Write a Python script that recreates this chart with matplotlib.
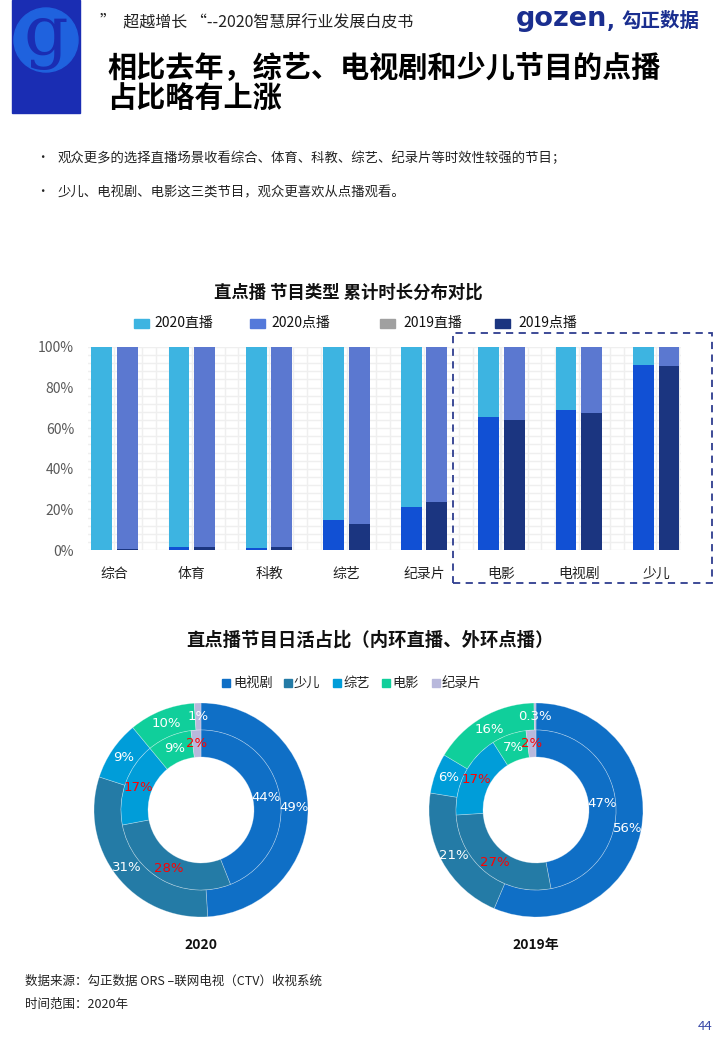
import matplotlib
matplotlib.use("Agg")
import matplotlib.pyplot as plt
from matplotlib.patches import Rectangle, Ellipse
from matplotlib.ticker import MultipleLocator, FuncFormatter
import numpy as np

plt.rcParams['font.family'] = ['Noto Sans CJK SC', 'DejaVu Sans']

W, H = 720, 1040
def fx(px): return px / W
def fy(py): return 1 - py / H

# ---------------- data ----------------
categories = ['综合', '体育', '科教', '综艺', '纪录片', '电影', '电视剧', '少儿']
vod_2020 = [0.2, 1.6, 1.2, 14.9, 21.1, 65.5, 68.9, 91.3]   # 点播 share (%) 2020
vod_2019 = [0.5, 1.5, 1.6, 12.8, 23.7, 63.8, 67.3, 90.8]   # 点播 share (%) 2019
bar_legend = ['2020直播', '2020点播', '2019直播', '2019点播']

donut_cats = ['电视剧', '少儿', '综艺', '电影', '纪录片']
outer_2020 = [49, 31, 9, 10, 1]
inner_2020 = [44, 28, 17, 9, 2]
outer_2019 = [56, 21, 6, 16, 0.3]
inner_2019 = [47, 27, 17, 7, 2]

bullets = ['观众更多的选择直播场景收看综合、体育、科教、综艺、纪录片等时效性较强的节目；',
           '少儿、电视剧、电影这三类节目，观众更喜欢从点播观看。']

# ---------------- colours ----------------
c20_top, c20_bot = '#3DB4E1', '#1150D4'
c19_top, c19_bot = '#5B78D0', '#1B3580'
legend_cols = ['#3DB4E1', '#5479DA', '#A0A0A0', '#1B3580']
donut_cols = ['#0F6FC6', '#247BA6', '#009DD9', '#10CF9B', '#B8B8DC']
inner_label_cols = ['white', 'red', 'red', 'white', 'red']

fig = plt.figure(figsize=(7.2, 10.4), dpi=100)

# ---------------- header ----------------
fig.patches.append(Rectangle((fx(12), fy(113)), fx(80) - fx(12), fy(0) - fy(113),
                             transform=fig.transFigure, color='#1A2DB3', zorder=0))
fig.patches.append(Ellipse((fx(46), fy(40)), 64 / W, 64 / H, transform=fig.transFigure,
                           color='#1F62DE', zorder=1))
fig.text(fx(46), fy(37), 'g', fontsize=50, family='DejaVu Serif', color='#1A2DB3',
         ha='center', va='center', zorder=2)
fig.text(fx(100), fy(22), '”  超越增长 “--2020智慧屏行业发展白皮书', fontsize=11.5,
         color='#222222', ha='left', va='center')
fig.text(fx(516), fy(19), 'gozen', fontsize=19.5, fontweight='bold', color='#1A2E8F',
         family='DejaVu Sans', ha='left', va='center')
fig.text(fx(607), fy(22), ',', fontsize=15, fontweight='bold', color='#1A2E8F',
         family='DejaVu Sans', ha='left', va='center')
fig.text(fx(621), fy(21), '勾正数据', fontsize=14, fontweight='bold', color='#1A2E8F',
         ha='left', va='center')
fig.text(fx(107), fy(68), '相比去年，综艺、电视剧和少儿节目的点播', fontsize=21,
         fontweight='bold', color='black', ha='left', va='center')
fig.text(fx(107), fy(99), '占比略有上涨', fontsize=21,
         fontweight='bold', color='black', ha='left', va='center')
for i, b in enumerate(bullets):
    y = [158, 192][i]
    fig.text(fx(42), fy(y), '•', fontsize=9, color='#222222', ha='center', va='center')
    fig.text(fx(58), fy(y), b, fontsize=9.6, color='#222222', ha='left', va='center')

# ---------------- bar chart ----------------
fig.text(fx(348), fy(293), '直点播 节目类型 累计时长分布对比', fontsize=12.5,
         fontweight='bold', ha='center', va='center', color='#111111')
leg_sq = [134, 250, 380, 495]
leg_tx = [154, 271, 403, 518]
for sx, tx, lab, col in zip(leg_sq, leg_tx, bar_legend, legend_cols):
    fig.patches.append(Rectangle((fx(sx), fy(328)), 15 / W, 9 / H,
                                 transform=fig.transFigure, color=col))
    fig.text(fx(tx), fy(323), lab, fontsize=10, ha='left', va='center', color='#111111')

ax = fig.add_axes([fx(88), fy(550), fx(681) - fx(88), fy(347) - fy(550)])
x = np.arange(len(categories))
bw, off = 0.27, 0.165
v20 = np.array(vod_2020)
v19 = np.array(vod_2019)
ax.bar(x - off, v20, bw, color=c20_bot, zorder=3)
ax.bar(x - off, 100 - v20, bw, bottom=v20, color=c20_top, zorder=3)
ax.bar(x + off, v19, bw, color=c19_bot, zorder=3)
ax.bar(x + off, 100 - v19, bw, bottom=v19, color=c19_top, zorder=3)
ax.set_ylim(0, 100)
ax.set_xlim(-0.34, 7.32)
ax.yaxis.set_major_locator(MultipleLocator(20))
ax.yaxis.set_minor_locator(MultipleLocator(4))
ax.yaxis.set_major_formatter(FuncFormatter(lambda v, p: f'{v:.0f}%'))
ax.set_xticks(x)
ax.set_xticklabels(categories)
ax.xaxis.set_minor_locator(MultipleLocator(0.178))
ax.grid(True, which='both', color='#EFEFEF', linewidth=1.0, zorder=0)
ax.set_axisbelow(True)
for s in ax.spines.values():
    s.set_visible(False)
ax.tick_params(axis='both', which='both', length=0)
ax.tick_params(axis='y', labelsize=10, labelcolor='#595959', pad=10)
ax.tick_params(axis='x', labelsize=10, labelcolor='#222222', pad=12)

fig.patches.append(Rectangle((fx(453), fy(583)), fx(712) - fx(453), fy(333) - fy(583),
                             transform=fig.transFigure, fill=False, edgecolor='#2E3D8F',
                             linestyle=(0, (4, 3)), linewidth=1.3))

# ---------------- donuts ----------------
fig.text(fx(370), fy(640), '直点播节目日活占比（内环直播、外环点播）', fontsize=13.2,
         fontweight='bold', ha='center', va='center', color='#111111')
d_sq = [222, 284, 333, 382, 432]
d_tx = [233, 294, 343, 392, 442]
for sx, tx, lab, col in zip(d_sq, d_tx, donut_cats, donut_cols):
    fig.patches.append(Rectangle((fx(sx), fy(687)), 8 / W, 8 / H,
                                 transform=fig.transFigure, color=col))
    fig.text(fx(tx), fy(683), lab, fontsize=9.5, ha='left', va='center', color='#222222')

R_out, R_mid, R_in = 107, 80, 53

def donut(cx, cy, outer, inner, title):
    a = fig.add_axes([fx(cx - 112), fy(cy + 112), 224 / W, 224 / H])
    a.set_aspect('equal')
    a.axis('off')
    wo, _ = a.pie(outer, radius=R_out, colors=donut_cols, startangle=90, counterclock=False,
                  wedgeprops=dict(width=R_out - R_mid, edgecolor=(1, 1, 1, 0.35), linewidth=0.5))
    wi, _ = a.pie(inner, radius=R_mid, colors=donut_cols, startangle=90, counterclock=False,
                  wedgeprops=dict(width=R_mid - R_in, edgecolor=(1, 1, 1, 0.35), linewidth=0.5))
    for w, v in zip(wo, outer):
        ang = np.deg2rad((w.theta1 + w.theta2) / 2)
        r = (R_out + R_mid) / 2
        a.text(r * np.cos(ang), r * np.sin(ang), f'{v:g}%', fontsize=9.5, color='white',
               ha='center', va='center', family='DejaVu Sans')
    for w, v, c in zip(wi, inner, inner_label_cols):
        ang = np.deg2rad((w.theta1 + w.theta2) / 2)
        r = (R_mid + R_in) / 2
        a.text(r * np.cos(ang), r * np.sin(ang), f'{v:g}%', fontsize=9.5, color=c,
               ha='center', va='center', family='DejaVu Sans')
    a.set_xlim(-112, 112)
    a.set_ylim(-112, 112)
    fig.text(fx(cx), fy(945), title, fontsize=10, fontweight='bold', ha='center',
             va='center', color='#111111')

donut(201, 810, outer_2020, inner_2020, '2020')
donut(536, 810, outer_2019, inner_2019, '2019年')

# ---------------- footer ----------------
fig.text(fx(25), fy(981), '数据来源：勾正数据 ORS –联网电视（CTV）收视系统', fontsize=9,
         ha='left', va='center', color='#222222')
fig.text(fx(25), fy(1004), '时间范围：2020年', fontsize=9,
         ha='left', va='center', color='#222222')
fig.text(fx(712), fy(1027), '44', fontsize=9.5, ha='right', va='center', color='#3B4BA8')

fig.savefig('out.png', dpi=100)
